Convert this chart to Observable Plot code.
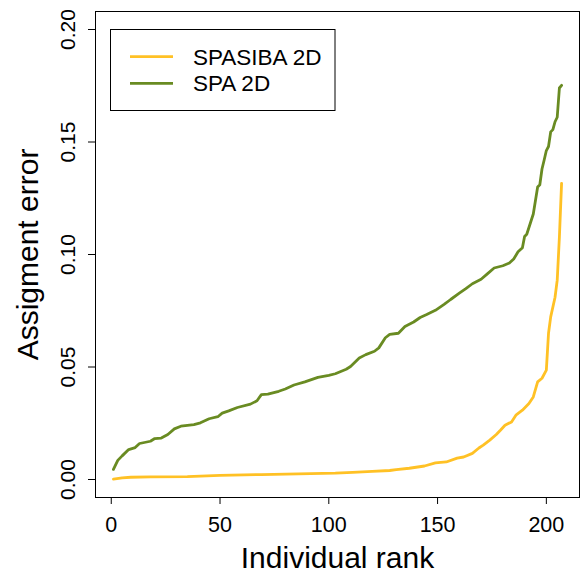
<!DOCTYPE html>
<html>
<head>
<meta charset="utf-8">
<script src="https://cdn.jsdelivr.net/npm/d3@7"></script>
<script src="https://cdn.jsdelivr.net/npm/@observablehq/plot@0.6"></script>
<style>
  html, body { margin: 0; padding: 0; background: #fff; }
  #wrap { position: relative; width: 584px; height: 574px; font-family: "Liberation Sans", Arial, Helvetica, sans-serif; }
  #legend { position: absolute; left: 0; top: 0; pointer-events: none; }
</style>
</head>
<body>
<div id="wrap"></div>
<script>
// ---- data ----
const seriesNames = ["SPASIBA 2D", "SPA 2D"];
const seriesColors = ["#FFC125", "#698B22"];

const spaRanks = [1,3,5,8,11,13,18,20,23,26,29,32,38,41,45,49,51,54,58,64,67,69,72,77,80,84,89,95,100,103,108,110,114,117,121,123,126,128,132,135,139,142,145,149,153,156,160,163,166,170,173,176,180,183,185,187,189,190,191,193,194,196,197,198,199,200,201,202,203,204,205,206,207];
const spaValues = [0.0045,0.0085,0.0105,0.0133,0.0142,0.0160,0.0170,0.0182,0.0184,0.0200,0.0225,0.0237,0.0244,0.0252,0.0270,0.0279,0.0295,0.0305,0.0320,0.0335,0.0350,0.0377,0.0379,0.0392,0.0402,0.0420,0.0434,0.0454,0.0463,0.0470,0.0490,0.0502,0.0540,0.0555,0.0570,0.0585,0.0630,0.0645,0.0650,0.0680,0.0700,0.0720,0.0733,0.0752,0.0778,0.0800,0.0828,0.0848,0.0870,0.0890,0.0915,0.0940,0.0950,0.0962,0.0980,0.1012,0.1030,0.1080,0.1090,0.1150,0.1180,0.1300,0.1310,0.1380,0.1420,0.1462,0.1480,0.1545,0.1555,0.1590,0.1610,0.1740,0.1752];

const spasibaRanks = [1,5,9,18,35,50,69,86,103,111,120,128,131,137,144,149,154,159,162,166,169,171,174,177,179,181,184,186,189,192,194,196,198,200,201,202,204,205,206,207];
const spasibaValues = [0.0002,0.0007,0.0010,0.0012,0.0013,0.0018,0.0022,0.0025,0.0028,0.0032,0.0036,0.0040,0.0044,0.0050,0.0060,0.0074,0.0078,0.0095,0.0100,0.0116,0.0140,0.0153,0.0175,0.0200,0.0220,0.0241,0.0256,0.0286,0.0308,0.0338,0.0367,0.0434,0.0450,0.0486,0.0650,0.0723,0.0810,0.0886,0.1078,0.1316];

const xTicks = [0, 50, 100, 150, 200];
const yTicks = [0, 0.05, 0.10, 0.15, 0.20];
const xTitle = "Individual rank";
const yTitle = "Assigment error";

// ---- build table ----
const rows = [
  ...spasibaRanks.map((r, i) => ({rank: r, value: spasibaValues[i], series: seriesNames[0]})),
  ...spaRanks.map((r, i) => ({rank: r, value: spaValues[i], series: seriesNames[1]}))
];

const font = "Liberation Sans, Arial, Helvetica, sans-serif";

const chart = Plot.plot({
  width: 584,
  height: 574,
  marginLeft: 95,
  marginRight: 5,
  marginTop: 11,
  marginBottom: 77,
  style: {fontFamily: font, background: "white", color: "black"},
  x: {domain: [-7.24, 215.24]},
  y: {domain: [-0.008, 0.208]},
  color: {domain: seriesNames, range: seriesColors},
  marks: [
    Plot.line(rows, {x: "rank", y: "value", z: "series", stroke: "series", strokeWidth: 2.8, strokeLinejoin: "round", strokeLinecap: "round"}),
    Plot.frame({stroke: "black", strokeWidth: 1}),
    Plot.axisX({ticks: xTicks, tickSize: 7, tickPadding: 12, fontSize: 21.5, label: null, stroke: "black", strokeWidth: 1}),
    Plot.axisY({ticks: yTicks, tickSize: 7, tickFormat: () => "", label: null, stroke: "black", strokeWidth: 1}),
    Plot.text(yTicks, {y: d => d, text: d => d.toFixed(2), frameAnchor: "left", rotate: -90, dx: -21, lineAnchor: "bottom", textAnchor: "middle", fontSize: 21, fill: "black"}),
    Plot.text([xTitle], {text: d => d, frameAnchor: "bottom", dy: 70, lineAnchor: "bottom", textAnchor: "middle", fontSize: 30, fill: "black"}),
    Plot.text([yTitle], {text: d => d, frameAnchor: "left", rotate: -90, dx: -58, lineAnchor: "bottom", textAnchor: "middle", fontSize: 30, fill: "black"})
  ]
});

const wrap = document.getElementById("wrap");
wrap.appendChild(chart);

// ---- legend overlay ----
const ns = "http://www.w3.org/2000/svg";
const leg = document.createElementNS(ns, "svg");
leg.setAttribute("id", "legend");
leg.setAttribute("width", 584);
leg.setAttribute("height", 574);
const box = document.createElementNS(ns, "rect");
box.setAttribute("x", 110.5); box.setAttribute("y", 29.5);
box.setAttribute("width", 224.5); box.setAttribute("height", 81);
box.setAttribute("fill", "white"); box.setAttribute("stroke", "black"); box.setAttribute("stroke-width", 1);
leg.appendChild(box);
seriesNames.forEach((name, i) => {
  const cy = 56.7 + i * 26.7;
  const ln = document.createElementNS(ns, "line");
  ln.setAttribute("x1", 130); ln.setAttribute("x2", 173);
  ln.setAttribute("y1", cy); ln.setAttribute("y2", cy);
  ln.setAttribute("stroke", seriesColors[i]); ln.setAttribute("stroke-width", 2.8);
  leg.appendChild(ln);
  const t = document.createElementNS(ns, "text");
  t.setAttribute("x", 193); t.setAttribute("y", cy);
  t.setAttribute("dy", "0.35em");
  t.setAttribute("font-size", 22.5);
  t.setAttribute("font-family", font);
  t.setAttribute("fill", "black");
  t.textContent = name;
  leg.appendChild(t);
});
wrap.appendChild(leg);
</script>
</body>
</html>
